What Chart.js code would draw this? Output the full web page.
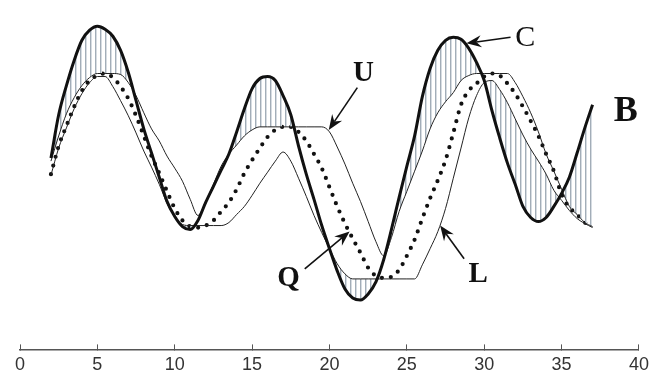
<!DOCTYPE html>
<html>
<head>
<meta charset="utf-8">
<script src="https://cdn.jsdelivr.net/npm/chart.js@4"></script>
<style>
  body { margin: 0; background: #fff; }
  canvas { display: block; }
</style>
</head>
<body>
<canvas id="chart" width="659" height="380"></canvas>
<script>
// sample positions (x)
const xs = [2, 2.5, 3, 3.5, 4, 4.5, 5, 5.5, 6, 6.5, 7, 7.5, 8, 8.5, 9, 9.5, 10, 10.5, 11, 11.5,
    12, 12.5, 13, 13.5, 14, 14.5, 15, 15.5, 16, 16.5, 17, 17.5, 18, 18.5, 19, 19.5, 20, 20.5,
    21, 21.5, 22, 22.5, 23, 23.5, 24, 24.5, 25, 25.5, 26, 26.5, 27, 27.5, 28, 28.5, 29, 29.5,
    30, 30.5, 31, 31.5, 32, 32.5, 33, 33.5, 34, 34.5, 35, 35.5, 36, 36.5, 37];

// C - thick curve
const seriesC = [19.0, 23.3, 26.2, 28.7, 30.7, 31.7, 32.1, 31.8, 31.1, 29.7, 27.5, 24.7, 21.9, 19.5,
    17.1, 14.7, 13.2, 12.2, 11.9, 12.8, 14.6, 16.2, 17.8, 19.4, 21.6, 23.9, 25.9, 26.9, 27.1, 26.7,
    25.2, 23.3, 20.2, 17.4, 14.9, 12.3, 10.0, 7.8, 6.0, 5.1, 4.9, 5.5, 6.7, 8.9, 11.9, 15.1, 18.2,
    21.2, 25.1, 27.9, 29.7, 30.7, 31.0, 30.8, 29.9, 28.5, 26.7, 23.7, 21.0, 18.5, 16.4, 14.2, 13.1,
    12.7, 13.1, 14.2, 15.5, 17.1, 19.5, 22.0, 24.3];

// U - upper envelope
const seriesU = [18.7, 21.2, 23.4, 25.0, 26.2, 27.0, 27.4, 27.4, 27.4, 27.3, 26.5, 25.2, 23.5, 21.9,
    20.7, 19.2, 18.0, 16.7, 14.9, 13.3, 14.7, 16.4, 18.2, 19.4, 20.3, 21.2, 21.8, 22.1, 22.1, 22.1,
    22.1, 22.1, 22.1, 22.1, 22.1, 22.1, 21.6, 20.1, 18.4, 16.5, 14.7, 12.7, 10.7, 9.3, 11.1, 13.7,
    15.7, 17.7, 19.7, 21.9, 23.5, 24.6, 25.5, 26.7, 27.2, 27.4, 27.4, 27.4, 27.4, 27.4, 26.5, 25.1,
    23.5, 21.6, 19.4, 17.7, 15.9, 14.2, 13.4, 12.6, 12.2];

// Q - dotted middle curve
const seriesQ = [17.4, 20.2, 22.2, 24.1, 25.7, 26.7, 27.2, 27.4, 27.0, 26.1, 24.9, 23.2, 21.2, 19.2,
    17.5, 15.7, 14.0, 12.8, 12.2, 12.1, 12.3, 12.8, 13.7, 14.6, 15.9, 17.5, 18.8, 20.0, 21.1, 21.8,
    22.1, 22.1, 21.6, 20.7, 19.4, 18.0, 16.1, 14.2, 12.5, 11.0, 9.6, 8.1, 7.3, 7.1, 7.2, 7.9, 9.3,
    10.9, 13.0, 15.0, 16.8, 18.8, 21.5, 24.3, 25.7, 26.4, 27.1, 27.4, 27.2, 26.4, 25.4, 24.1, 22.7,
    21.2, 19.4, 17.7, 15.4, 14.1, 13.4, 12.6, 12.2];

// L - lower envelope
const seriesL = [17.3, 20.0, 22.0, 23.9, 25.4, 26.5, 27.1, 27.1, 26.1, 24.7, 23.2, 21.5, 19.7, 18.1,
    16.4, 14.5, 13.2, 12.4, 12.3, 12.3, 12.3, 12.3, 12.3, 12.6, 13.4, 14.2, 15.3, 16.5, 17.6, 18.7,
    19.6, 18.7, 17.0, 15.2, 13.3, 11.6, 10.0, 8.5, 7.5, 7.0, 7.0, 7.0, 7.0, 7.0, 7.0, 7.0, 7.0, 7.0,
    8.4, 10.0, 11.7, 14.0, 17.0, 20.0, 23.0, 25.2, 26.5, 26.7, 25.8, 24.5, 22.9, 21.3, 19.9, 18.7,
    17.4, 15.8, 14.8, 13.8, 13.0, 12.5, 12.1];

const xTicks = [0, 5, 10, 15, 20, 25, 30, 35, 40];

// labels with arrows, in data coordinates
const notes = [
    { text: 'C', x: 32.65, y: 31.0, bold: false, size: 30, from: [31.7, 31.0], to: [28.85, 30.4] },
    { text: 'U', x: 22.2, y: 27.5, bold: true, size: 29, from: [21.8, 26.0], to: [19.95, 21.8] },
    { text: 'Q', x: 17.35, y: 7.1, bold: true, size: 29, from: [18.4, 8.0], to: [21.3, 11.7] },
    { text: 'L', x: 29.6, y: 7.5, bold: true, size: 29, from: [28.7, 9.0], to: [27.15, 12.3] },
    { text: 'B', x: 39.15, y: 23.7, bold: true, size: 36 }
];

function makeHatch() {
    const c = document.createElement('canvas');
    c.width = 5;
    c.height = 4;
    const g = c.getContext('2d');
    g.fillStyle = '#a2adb8';
    g.fillRect(0, 0, 1, 4);
    g.fillStyle = '#d6dce2';
    g.fillRect(1, 0, 1, 4);
    return g.createPattern(c, 'repeat');
}
const hatch = makeHatch();
const none = 'rgba(0,0,0,0)';

function pts(ys) {
    return xs.map((x, i) => ({ x: x, y: ys[i] }));
}

const notesPlugin = {
    id: 'notes',
    afterDatasetsDraw(chart) {
        const ctx = chart.ctx;
        const sx = chart.scales.x;
        const sy = chart.scales.y;
        ctx.save();
        ctx.fillStyle = '#111';
        ctx.strokeStyle = '#111';
        notes.forEach(n => {
            ctx.font = (n.bold ? 'bold ' : '') + n.size + 'px "Liberation Serif", "DejaVu Serif", serif';
            ctx.textAlign = 'center';
            ctx.textBaseline = 'middle';
            ctx.fillText(n.text, sx.getPixelForValue(n.x), sy.getPixelForValue(n.y) + 1);
            if (!n.from) return;
            const x1 = sx.getPixelForValue(n.from[0]), y1 = sy.getPixelForValue(n.from[1]);
            const x2 = sx.getPixelForValue(n.to[0]), y2 = sy.getPixelForValue(n.to[1]);
            const a = Math.atan2(y2 - y1, x2 - x1);
            const len = 15, half = 6, notch = 10;
            ctx.lineWidth = 1.6;
            ctx.beginPath();
            ctx.moveTo(x1, y1);
            ctx.lineTo(x2 - Math.cos(a) * notch, y2 - Math.sin(a) * notch);
            ctx.stroke();
            ctx.beginPath();
            ctx.moveTo(x2, y2);
            ctx.lineTo(x2 - Math.cos(a) * len - Math.sin(a) * half, y2 - Math.sin(a) * len + Math.cos(a) * half);
            ctx.lineTo(x2 - Math.cos(a) * notch, y2 - Math.sin(a) * notch);
            ctx.lineTo(x2 - Math.cos(a) * len + Math.sin(a) * half, y2 - Math.sin(a) * len - Math.cos(a) * half);
            ctx.closePath();
            ctx.fill();
        });
        ctx.restore();
    }
};

new Chart(document.getElementById('chart'), {
    type: 'line',
    data: {
        datasets: [
            {
                label: 'C',
                data: pts(seriesC),
                borderColor: '#111',
                borderWidth: 3,
                fill: false,
                cubicInterpolationMode: 'monotone'
            },
            {
                label: 'U',
                data: pts(seriesU),
                borderColor: '#222',
                borderWidth: 1,
                fill: { target: 0, above: none, below: hatch },
                cubicInterpolationMode: 'monotone'
            },
            {
                label: 'L',
                data: pts(seriesL),
                borderColor: '#222',
                borderWidth: 1,
                fill: { target: 0, above: hatch, below: none },
                cubicInterpolationMode: 'monotone'
            },
            {
                label: 'Q',
                data: pts(seriesQ),
                borderColor: '#111',
                borderWidth: 4.2,
                borderDash: [0, 9],
                borderCapStyle: 'round',
                fill: false,
                cubicInterpolationMode: 'monotone'
            }
        ]
    },
    options: {
        responsive: false,
        animation: false,
        layout: { padding: { left: 20, right: 19, top: 0, bottom: -6 } },
        elements: { point: { radius: 0 } },
        plugins: {
            legend: { display: false },
            tooltip: { enabled: false }
        },
        scales: {
            x: {
                type: 'linear',
                min: 0,
                max: 40,
                afterBuildTicks: scale => { scale.ticks = xTicks.map(v => ({ value: v })); },
                border: { display: true, color: '#555', width: 1.5 },
                grid: { drawOnChartArea: false, drawTicks: true, tickLength: -5, color: '#555', lineWidth: 1 },
                ticks: {
                    padding: 10,
                    color: '#333',
                    maxRotation: 0,
                    font: { family: '"Liberation Sans", Arial, sans-serif', size: 18 }
                }
            },
            y: {
                display: false,
                min: 0,
                max: 34.7
            }
        }
    },
    plugins: [notesPlugin]
});
</script>
</body>
</html>
